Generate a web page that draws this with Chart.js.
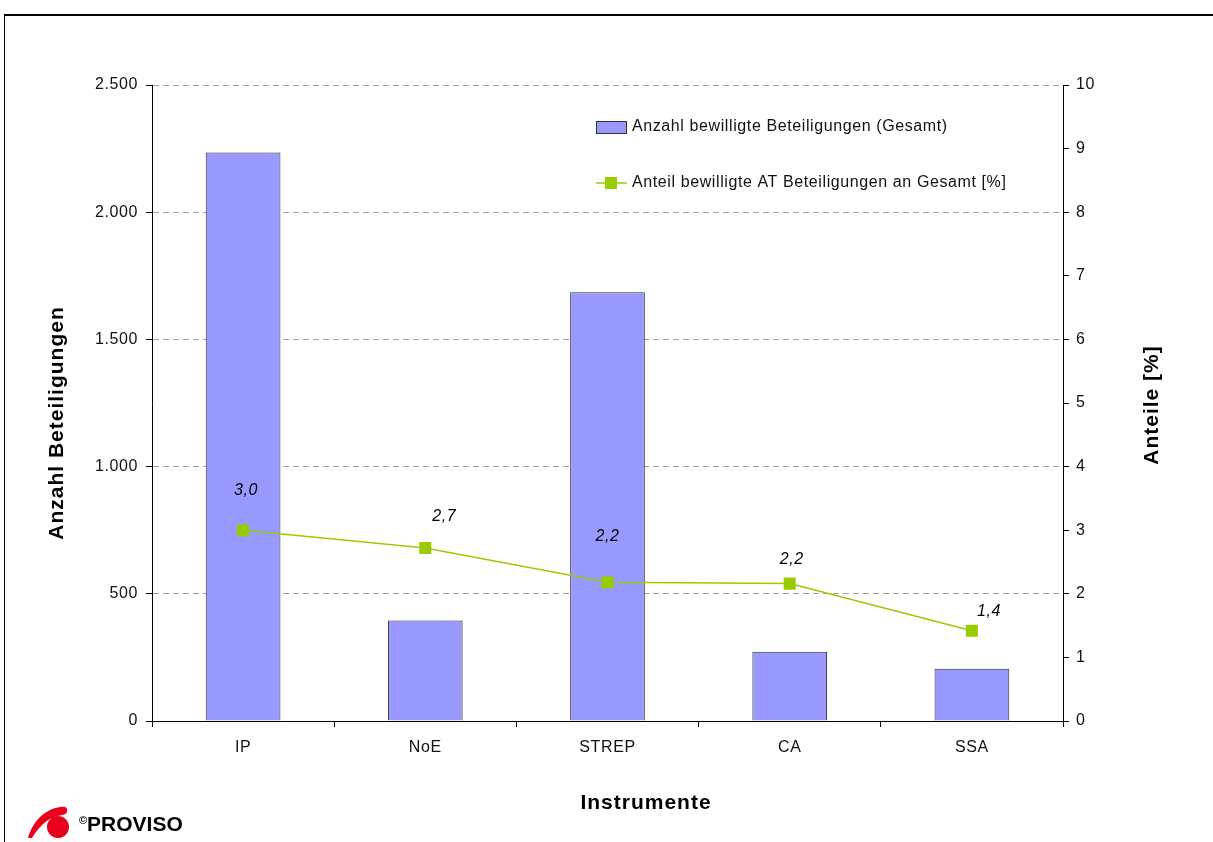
<!DOCTYPE html>
<html>
<head>
<meta charset="utf-8">
<script src="https://cdn.jsdelivr.net/npm/chart.js@4/dist/chart.umd.min.js"></script>
<style>
  body { margin: 0; background: #fff; font-family: "Liberation Sans", Arial, sans-serif; }
  #wrap { position: relative; width: 1213px; height: 842px; overflow: hidden; }
  #frame { position: absolute; left: 4px; top: 14px; width: 1240px; height: 860px;
           border-top: 2px solid #000; border-left: 1px solid #000; }
  #myChart { position: absolute; left: 0; top: 0; }
  #logo { position: absolute; left: 26px; top: 802px; }
  #brand { position: absolute; left: 79px; top: 812px; font-weight: bold; font-size: 21px;
           letter-spacing: 0; color: #000; }
  #brand sup { font-size: 11px; vertical-align: 7px; }
</style>
</head>
<body>
<div id="wrap">
  <div id="frame"></div>
  <canvas id="myChart" width="1213" height="842"></canvas>
  <svg id="logo" width="50" height="38" viewBox="0 0 50 38">
    <path d="M2 36 C6 22 16 8 34 5 C40 4 42 6 41 10 C40 13 36 13 31 14 C20 17 12 26 6 36 Z" fill="#e8001c"/>
    <circle cx="32" cy="25" r="11" fill="#e8001c"/>
  </svg>
  <div id="brand"><sup>©</sup>PROVISO</div>
</div>
<script>
const ctx = document.getElementById("myChart").getContext("2d");

// instruments and the two series
const instrumente = ["IP", "NoE", "STREP", "CA", "SSA"];
const anzahlBeteiligungen = [2235, 395, 1685, 272, 205];
const anteilAT = [3.0, 2.72, 2.18, 2.16, 1.42];

const leftTicks = [0, 500, 1000, 1500, 2000, 2500];
const rightTicks = [0, 1, 2, 3, 4, 5, 6, 7, 8, 9, 10];

const barLabel = "Anzahl bewilligte Beteiligungen (Gesamt)";
const lineLabel = "Anteil bewilligte AT Beteiligungen an Gesamt [%]";

const barColor = "#9999ff";
const lineColor = "#99cc00";
const fontFamily = "'Liberation Sans', Arial, sans-serif";

// fixed box for the plot area
const area = { left: 152, right: 1063, top: 85, bottom: 721 };

// nudges for the value labels above the squares
const labelShift = [[3, -40], [19, -31], [0, -46], [2, -24], [17, -19]];

const fmtDE = (v) => v.toLocaleString("de-DE");

const extras = {
  id: "extras",
  beforeDraw(chart) {
    chart.ctx.letterSpacing = "0.6px";
  },
  afterDatasetsDraw(chart) {
    const c = chart.ctx;
    const meta = chart.getDatasetMeta(0);
    c.save();
    c.fillStyle = "#000";
    c.font = "italic 16px " + fontFamily;
    c.textAlign = "center";
    c.textBaseline = "middle";
    meta.data.forEach((pt, i) => {
      const txt = anteilAT[i].toFixed(1).replace(".", ",");
      c.fillText(txt, pt.x + labelShift[i][0], pt.y + labelShift[i][1]);
    });
    c.restore();
  },
  afterDraw(chart) {
    const c = chart.ctx;
    c.save();
    c.fillStyle = "#000";
    c.font = "bold 21px " + fontFamily;
    c.letterSpacing = "1px";
    c.textAlign = "center";
    c.textBaseline = "middle";
    c.fillText("Instrumente", 646, 803);
    c.translate(57, 423);
    c.rotate(-Math.PI / 2);
    c.fillText("Anzahl Beteiligungen", 0, 0);
    c.restore();
    c.save();
    c.fillStyle = "#000";
    c.font = "bold 21px " + fontFamily;
    c.letterSpacing = "1px";
    c.textAlign = "center";
    c.textBaseline = "middle";
    c.translate(1152, 405);
    c.rotate(-Math.PI / 2);
    c.fillText("Anteile [%]", 0, 0);
    c.restore();

    // legend inside the plot
    c.save();
    c.font = "16px " + fontFamily;
    c.letterSpacing = "0.6px";
    c.textBaseline = "middle";
    c.fillStyle = barColor;
    c.strokeStyle = "#333";
    c.lineWidth = 1;
    c.fillRect(596, 121, 30, 12);
    c.strokeRect(596.5, 121.5, 30, 12);
    c.fillStyle = "#111";
    c.fillText(barLabel, 632, 127);
    c.strokeStyle = lineColor;
    c.lineWidth = 1.5;
    c.beginPath();
    c.moveTo(596, 183);
    c.lineTo(627, 183);
    c.stroke();
    c.fillStyle = lineColor;
    c.fillRect(605, 177, 12, 12);
    c.fillStyle = "#111";
    c.fillText(lineLabel, 632, 183);
    c.restore();
  },
};

const chart = new Chart(ctx, {
  type: "bar",
  data: {
    labels: instrumente,
    datasets: [
      {
        type: "line",
        label: lineLabel,
        data: anteilAT,
        yAxisID: "yRight",
        borderColor: lineColor,
        borderWidth: 1.5,
        backgroundColor: lineColor,
        pointStyle: "rect",
        pointRadius: 8.5,
        pointBorderWidth: 0,
        tension: 0,
        order: 0,
      },
      {
        label: barLabel,
        data: anzahlBeteiligungen,
        yAxisID: "yLeft",
        backgroundColor: barColor,
        borderColor: "#333",
        borderWidth: 1,
        barPercentage: 0.41,
        categoryPercentage: 1,
        order: 1,
      },
    ],
  },
  options: {
    responsive: false,
    animation: false,
    layout: { padding: { top: area.top, left: 0, right: 0, bottom: 0 } },
    plugins: {
      legend: { display: false },
      tooltip: { enabled: false },
    },
    scales: {
      x: {
        offset: true,
        afterFit: (s) => { s.height = 842 - area.bottom; },
        grid: {
          offset: true,
          drawOnChartArea: false,
          tickLength: 6,
          tickColor: "#000",
        },
        border: { color: "#000", width: 1 },
        ticks: {
          color: "#111",
          padding: 11,
          font: { size: 16, family: fontFamily },
        },
      },
      yLeft: {
        position: "left",
        min: 0,
        max: 2500,
        afterFit: (s) => { s.width = area.left; },
        afterBuildTicks: (s) => { s.ticks = leftTicks.map((v) => ({ value: v })); },
        grid: {
          color: "#a0a0a0",
          tickLength: 6,
          tickColor: "#000",
          tickBorderDash: [],
        },
        border: { color: "#000", width: 1, dash: [6, 4] },
        ticks: {
          color: "#111",
          padding: 8,
          font: { size: 16, family: fontFamily },
          callback: (v) => fmtDE(v),
        },
      },
      yRight: {
        position: "right",
        min: 0,
        max: 10,
        afterFit: (s) => { s.width = 1213 - area.right; },
        afterBuildTicks: (s) => { s.ticks = rightTicks.map((v) => ({ value: v })); },
        grid: {
          drawOnChartArea: false,
          tickLength: 6,
          tickColor: "#000",
        },
        border: { color: "#000", width: 1 },
        ticks: {
          color: "#111",
          padding: 7,
          font: { size: 16, family: fontFamily },
        },
      },
    },
  },
  plugins: [extras],
});
</script>
</body>
</html>
